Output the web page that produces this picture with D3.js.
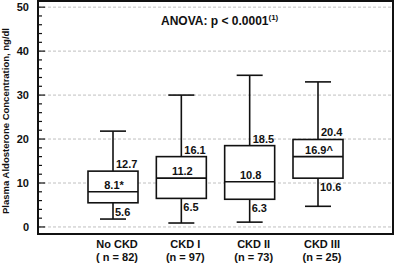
<!DOCTYPE html>
<html lang="en">
  <head>
    <meta charset="UTF-8" />
    <title>Plasma Aldosterone by CKD stage</title>
    <style>
      body {
        margin: 0;
        background: #fff;
      }
      svg text {
        font-family: "Liberation Sans", Arial, sans-serif;
        font-weight: bold;
        fill: #111;
      }
      .grid line {
        stroke: #b0b0b0;
        stroke-width: 0.8px;
        stroke-dasharray: 3, 2;
      }
      .box {
        fill: #fff;
        stroke: #111;
        stroke-width: 1.6px;
      }
      .whisker {
        stroke: #111;
        stroke-width: 1.6px;
      }
    </style>
  </head>
  <body>
    <svg width="395" height="267"></svg>

    <script src="https://d3js.org/d3.v7.min.js"></script>
    <script>
      // data
      const categories = ["No CKD", "CKD I", "CKD II", "CKD III"];
      const nLabels = ["( n = 82)", "(n = 97)", "(n = 73)", "(n = 25)"];
      const whiskerLow = [1.8, 0.9, 1.1, 4.7];
      const q1 = [5.5, 6.5, 6.3, 11.1];
      const median = [8.0, 11.1, 10.3, 16.0];
      const q3 = [12.7, 16.0, 18.5, 19.9];
      const whiskerHigh = [21.8, 30.0, 34.5, 33.0];
      const q3Text = ["12.7", "16.1", "18.5", "20.4"];
      const medianText = ["8.1*", "11.2", "10.8", "16.9^"];
      const q1Text = ["5.6", "6.5", "6.3", "10.6"];
      const yTicks = [0, 10, 20, 30, 40, 50];

      const rows = categories.map((c, i) => ({
        cat: c,
        n: nLabels[i],
        lo: whiskerLow[i],
        q1: q1[i],
        med: median[i],
        q3: q3[i],
        hi: whiskerHigh[i],
        q3t: q3Text[i],
        medt: medianText[i],
        q1t: q1Text[i],
      }));

      const plotL = 38,
        plotR = 393,
        plotT = 1,
        plotB = 234;

      const svg = d3.select("svg");

      const y = d3.scaleLinear().domain([-1.6, 51.4]).range([plotB, plotT]);
      const x = d3.scalePoint().domain(categories).range([113, 318]);

      const boxW = 50,
        capW = 26;

      // gridlines
      svg
        .append("g")
        .attr("class", "grid")
        .selectAll("line")
        .data(yTicks)
        .join("line")
        .attr("x1", plotL)
        .attr("x2", plotR)
        .attr("y1", (d) => y(d))
        .attr("y2", (d) => y(d));

      // minor + major ticks (inside)
      const minor = d3.range(0, 51, 2);
      svg
        .append("g")
        .selectAll("line")
        .data(minor)
        .join("line")
        .attr("x1", plotL)
        .attr("x2", (d) => plotL + (d % 10 === 0 ? 7 : 4))
        .attr("y1", (d) => y(d))
        .attr("y2", (d) => y(d))
        .attr("stroke", "#111")
        .attr("stroke-width", 1.2);

      svg
        .append("g")
        .selectAll("text")
        .data(yTicks)
        .join("text")
        .attr("x", 29)
        .attr("y", (d) => y(d) + 4)
        .attr("text-anchor", "end")
        .attr("font-size", 11)
        .text((d) => d);

      // frame
      svg
        .append("rect")
        .attr("x", plotL)
        .attr("y", plotT)
        .attr("width", plotR - plotL)
        .attr("height", plotB - plotT)
        .attr("fill", "none")
        .attr("stroke", "#111")
        .attr("stroke-width", 2);

      // boxes
      const g = svg
        .append("g")
        .selectAll("g")
        .data(rows)
        .join("g")
        .attr("transform", (d) => `translate(${x(d.cat)},0)`);

      g.append("line")
        .attr("class", "whisker")
        .attr("x1", 0)
        .attr("x2", 0)
        .attr("y1", (d) => y(d.hi))
        .attr("y2", (d) => y(d.lo));

      g.append("line")
        .attr("class", "whisker")
        .attr("x1", -capW / 2)
        .attr("x2", capW / 2)
        .attr("y1", (d) => y(d.hi))
        .attr("y2", (d) => y(d.hi));

      g.append("line")
        .attr("class", "whisker")
        .attr("x1", -capW / 2)
        .attr("x2", capW / 2)
        .attr("y1", (d) => y(d.lo))
        .attr("y2", (d) => y(d.lo));

      g.append("rect")
        .attr("class", "box")
        .attr("x", -boxW / 2)
        .attr("width", boxW)
        .attr("y", (d) => y(d.q3))
        .attr("height", (d) => y(d.q1) - y(d.q3));

      g.append("line")
        .attr("class", "whisker")
        .attr("x1", -boxW / 2)
        .attr("x2", boxW / 2)
        .attr("y1", (d) => y(d.med))
        .attr("y2", (d) => y(d.med));

      g.append("text")
        .attr("x", 3)
        .attr("y", (d) => y(d.q3) - 3)
        .attr("font-size", 11)
        .text((d) => d.q3t);

      g.append("text")
        .attr("x", 1)
        .attr("y", (d) => y(d.med) - 3)
        .attr("text-anchor", "middle")
        .attr("font-size", 11)
        .text((d) => d.medt);

      g.append("text")
        .attr("x", 2)
        .attr("y", (d) => y(d.q1) + 13)
        .attr("font-size", 11)
        .text((d) => d.q1t);

      // category labels
      g.append("text")
        .attr("x", 4)
        .attr("y", 248)
        .attr("text-anchor", "middle")
        .attr("font-size", 11)
        .text((d) => d.cat);

      g.append("text")
        .attr("x", 4)
        .attr("y", 261)
        .attr("text-anchor", "middle")
        .attr("font-size", 11)
        .text((d) => d.n);

      // annotation
      const anova = svg
        .append("text")
        .attr("x", 161)
        .attr("y", 25)
        .attr("font-size", 12);
      anova.append("tspan").text("ANOVA: p < 0.0001");
      anova
        .append("tspan")
        .attr("dy", -5)
        .attr("font-size", 8)
        .text("(1)");

      // y axis title
      svg
        .append("text")
        .attr("transform", "translate(9,121) rotate(-90)")
        .attr("text-anchor", "middle")
        .attr("font-size", 9.5)
        .text("Plasma Aldosterone Concentration, ng/dl");
    </script>
  </body>
</html>
